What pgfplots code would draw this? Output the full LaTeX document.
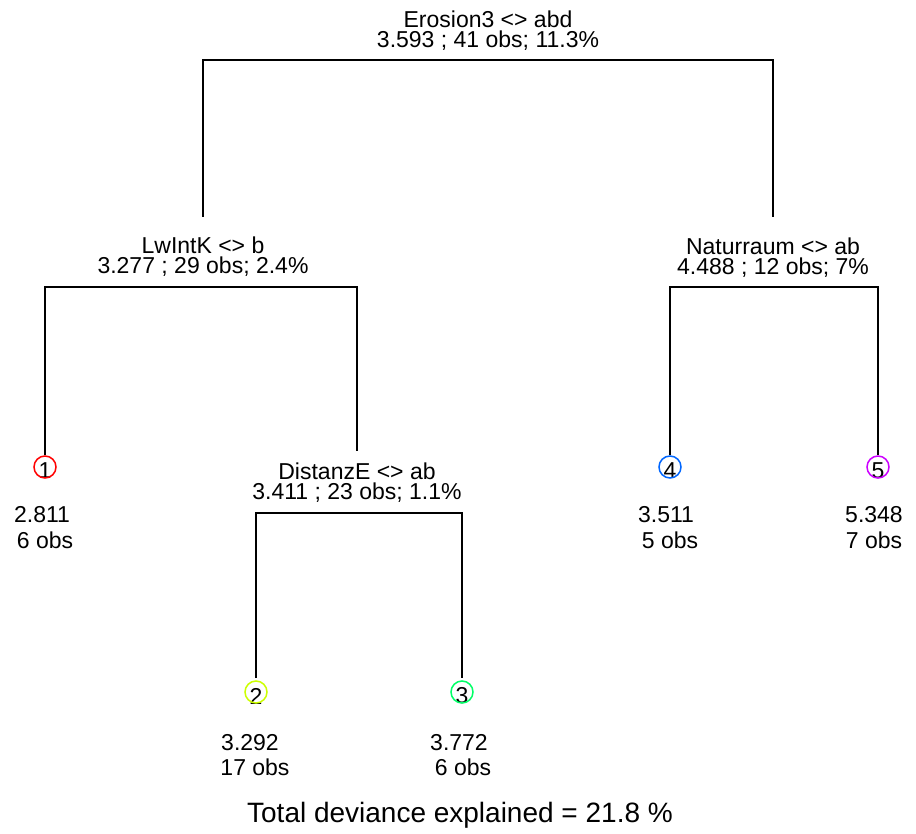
\documentclass[border=0pt]{standalone}
\usepackage{pgfplots}
\pgfplotsset{compat=1.18}
\usepackage{fontspec}
\setmainfont{Liberation Sans}
\definecolor{c1}{HTML}{FF0000}
\definecolor{c2}{HTML}{CCFF00}
\definecolor{c3}{HTML}{00FF66}
\definecolor{c4}{HTML}{0066FF}
\definecolor{c5}{HTML}{CC00FF}
\tikzset{lab/.style={font=\fontsize{11.5}{13}\selectfont, inner sep=0pt}}
\begin{document}
\begin{tikzpicture}
\begin{axis}[
  width=458pt, height=417pt, scale only axis,
  xmin=0, xmax=916, ymin=0, ymax=834, y dir=reverse,
  hide axis, clip=false,
]
% split segments
\addplot[black, line width=0.7pt] coordinates {(203,217) (203,60) (773,60) (773,217)};
\addplot[black, line width=0.7pt] coordinates {(45,455) (45,287) (357,287) (357,451)};
\addplot[black, line width=0.7pt] coordinates {(256,678) (256,513) (462,513) (462,678)};
\addplot[black, line width=0.7pt] coordinates {(670,455) (670,287) (878,287) (878,455)};
% leaves
\addplot[only marks, mark=o, mark size=5.5pt, c1, mark options={line width=0.75pt}] coordinates {(45,467)};
\addplot[only marks, mark=o, mark size=5.5pt, c2, mark options={line width=0.75pt}] coordinates {(256,692)};
\addplot[only marks, mark=o, mark size=5.5pt, c3, mark options={line width=0.75pt}] coordinates {(462,692)};
\addplot[only marks, mark=o, mark size=5.5pt, c4, mark options={line width=0.75pt}] coordinates {(670,467)};
\addplot[only marks, mark=o, mark size=5.5pt, c5, mark options={line width=0.75pt}] coordinates {(878,467)};
% split labels
\node[lab] at (axis cs:488,19) {Erosion3 <> abd};
\node[lab] at (axis cs:488,41) {3.593 ; 41 obs; 11.3\%};
\node[lab] at (axis cs:203,245) {LwIntK <> b};
\node[lab] at (axis cs:203,267) {3.277 ; 29 obs; 2.4\%};
\node[lab] at (axis cs:357,471) {DistanzE <> ab};
\node[lab] at (axis cs:357,493) {3.411 ; 23 obs; 1.1\%};
\node[lab] at (axis cs:773,246) {Naturraum <> ab};
\node[lab] at (axis cs:773,268) {4.488 ; 12 obs; 7\%};
% leaf numbers
\node[lab] at (axis cs:45,471) {1};
\node[lab] at (axis cs:256,696) {2};
\node[lab] at (axis cs:462,696) {3};
\node[lab] at (axis cs:670,471) {4};
\node[lab] at (axis cs:878,471) {5};
% leaf values
\node[lab] at (axis cs:42,515) {2.811};
\node[lab] at (axis cs:45,540) {6 obs};
\node[lab] at (axis cs:250,743) {3.292};
\node[lab] at (axis cs:255,767) {17 obs};
\node[lab] at (axis cs:459,743) {3.772};
\node[lab] at (axis cs:463,767) {6 obs};
\node[lab] at (axis cs:666,515) {3.511};
\node[lab] at (axis cs:670,540) {5 obs};
\node[lab] at (axis cs:874,515) {5.348};
\node[lab] at (axis cs:874,540) {7 obs};
\node[font=\fontsize{14}{16}\selectfont, inner sep=0pt] at (axis cs:460,815) {Total deviance explained = 21.8 \%};
\path (rel axis cs:0,0) rectangle (rel axis cs:1,1);
\end{axis}
\end{tikzpicture}
\end{document}
